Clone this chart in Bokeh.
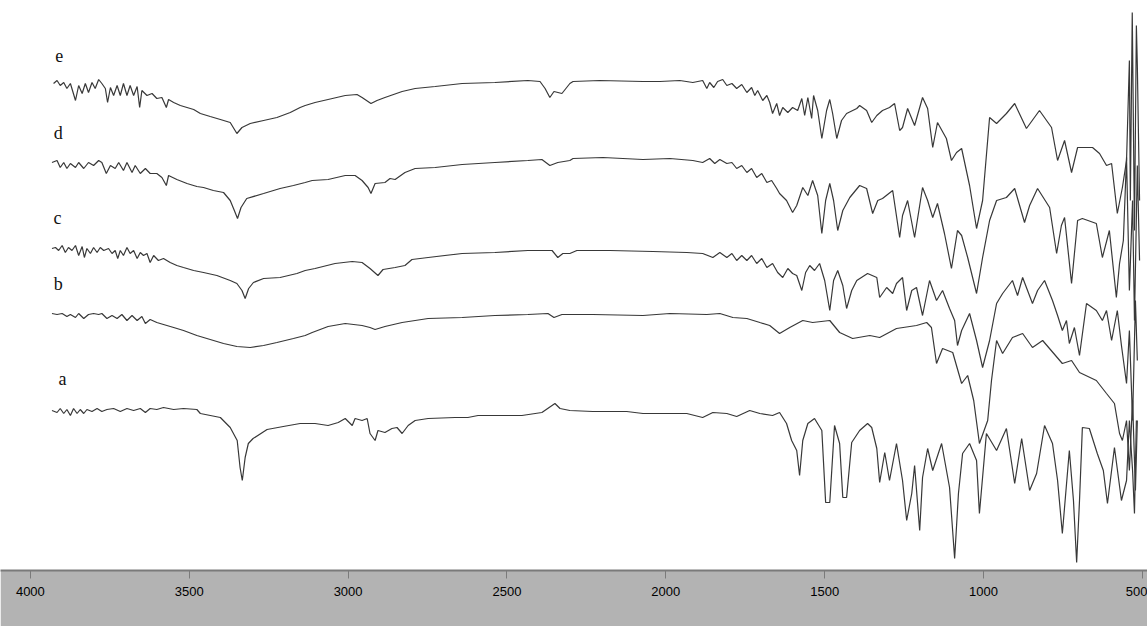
from bokeh.plotting import figure
from bokeh.models import Range1d, FixedTicker
from bokeh.embed import file_html
from bokeh.resources import INLINE
from bokeh.core.properties import value

# ---- data: (wavenumber cm^-1, offset transmittance, arbitrary units) ----
trace_e = [
    (3927, 517), (3916, 520), (3906, 515), (3895, 518), (3885, 512), (3874, 517), (3858, 500), (3848, 515), (3837, 507), (3827, 517),
    (3817, 508), (3806, 518), (3796, 512), (3785, 521), (3775, 517), (3764, 512), (3757, 498), (3748, 513), (3738, 505), (3727, 515),
    (3717, 505), (3707, 517), (3696, 505), (3686, 515), (3675, 505), (3664, 514), (3656, 493), (3649, 510), (3633, 505), (3617, 507),
    (3602, 502), (3586, 503), (3572, 493), (3565, 501), (3549, 498), (3528, 495), (3507, 493), (3486, 491), (3465, 487), (3434, 484),
    (3402, 481), (3371, 478), (3350, 467), (3334, 473), (3308, 477), (3266, 480), (3224, 483), (3182, 488), (3151, 493), (3135, 495),
    (3104, 498), (3063, 501), (3009, 505), (2972, 506), (2956, 503), (2928, 497), (2909, 500), (2884, 503), (2830, 509), (2789, 512),
    (2726, 514), (2641, 517), (2538, 518), (2434, 520), (2396, 519), (2380, 512), (2365, 503), (2352, 509), (2327, 507), (2302, 517),
    (2292, 519), (2208, 520), (2072, 519), (2019, 519), (1956, 520), (1915, 518), (1884, 520), (1871, 512), (1862, 518), (1849, 513),
    (1837, 519), (1821, 521), (1808, 515), (1792, 517), (1777, 512), (1761, 516), (1745, 508), (1730, 513), (1720, 505), (1711, 510),
    (1695, 500), (1682, 505), (1673, 498), (1664, 487), (1651, 497), (1642, 485), (1632, 493), (1616, 488), (1601, 493), (1585, 490),
    (1572, 502), (1563, 485), (1553, 503), (1541, 482), (1535, 505), (1522, 490), (1509, 462), (1494, 490), (1484, 501), (1475, 487),
    (1462, 462), (1447, 480), (1431, 487), (1399, 492), (1390, 495), (1368, 490), (1352, 478), (1336, 485), (1318, 490), (1296, 493),
    (1280, 497), (1264, 470), (1255, 473), (1239, 492), (1217, 475), (1192, 503), (1176, 492), (1160, 453), (1145, 478), (1117, 462),
    (1101, 440), (1085, 448), (1069, 452), (1044, 415), (1022, 372), (1003, 400), (981, 483), (959, 477), (928, 487), (902, 497),
    (865, 472), (824, 490), (786, 473), (767, 440), (745, 460), (723, 428), (704, 453), (657, 453), (635, 447), (613, 435),
    (597, 437), (579, 387), (563, 413), (550, 440), (541, 540), (538, 400), (532, 588), (525, 370), (519, 575), (516, 535), (509, 400),
]

trace_d = [
    (3932, 438), (3916, 440), (3906, 433), (3895, 438), (3885, 432), (3874, 437), (3858, 433), (3848, 438), (3832, 432), (3817, 438),
    (3801, 435), (3785, 440), (3775, 438), (3761, 427), (3748, 435), (3733, 432), (3722, 438), (3707, 430), (3696, 438), (3680, 428),
    (3670, 435), (3654, 427), (3638, 432), (3623, 427), (3602, 427), (3586, 423), (3572, 415), (3565, 425), (3539, 421), (3507, 417),
    (3476, 414), (3455, 413), (3424, 410), (3392, 408), (3371, 400), (3358, 390), (3348, 382), (3337, 393), (3319, 402), (3266, 407),
    (3214, 412), (3172, 415), (3135, 418),
    (3113, 420), (3063, 421), (3009, 425), (2978, 425), (2956, 420), (2937, 413), (2928, 407), (2915, 417), (2884, 418), (2868, 422),
    (2852, 421), (2821, 428), (2789, 432), (2726, 433), (2641, 436), (2538, 438), (2434, 440), (2390, 441), (2365, 435), (2340, 438),
    (2302, 440), (2292, 442), (2198, 443), (2072, 441), (1987, 442), (1915, 440), (1884, 438), (1862, 442), (1846, 437), (1830, 441),
    (1808, 437), (1792, 438), (1777, 432), (1761, 435), (1745, 428), (1730, 432), (1714, 423), (1698, 427), (1682, 418), (1667, 420),
    (1651, 412),
    (1642, 407), (1620, 400), (1601, 388), (1588, 395), (1569, 413), (1553, 405), (1538, 420), (1522, 405), (1509, 367), (1497, 400),
    (1484, 417), (1472, 400), (1459, 370), (1443, 390), (1421, 403), (1390, 415), (1368, 412), (1349, 387), (1333, 400), (1318, 402),
    (1286, 410), (1264, 363), (1255, 385), (1239, 400), (1217, 363), (1192, 413), (1176, 400), (1160, 383), (1145, 397), (1123, 367),
    (1101, 332), (1082, 370), (1069, 365), (1050, 343), (1022, 307), (1003, 343), (981, 380), (959, 400), (928, 403), (902, 412),
    (871, 378), (855, 395), (830, 412), (792, 393), (770, 347), (755, 375), (745, 383), (723, 317), (704, 380), (689, 382),
    (645, 377), (626, 343), (604, 370), (582, 303), (572, 337), (560, 360), (550, 443), (541, 310), (531, 400), (525, 280),
    (516, 435), (509, 340),
]

trace_c = [
    (3932, 352), (3921, 353), (3911, 350), (3900, 355), (3890, 348), (3880, 353), (3869, 350), (3858, 355), (3848, 345), (3837, 354),
    (3830, 343), (3822, 352), (3811, 347), (3801, 353), (3790, 348), (3780, 353), (3769, 350), (3754, 352), (3743, 347), (3733, 350),
    (3725, 342), (3717, 350), (3707, 345), (3696, 353), (3686, 347), (3675, 350), (3664, 342), (3654, 348), (3644, 345), (3633, 347),
    (3623, 338), (3612, 345), (3597, 340), (3581, 342), (3560, 338), (3539, 335), (3518, 333), (3486, 330), (3455, 328), (3413, 325),
    (3371, 320), (3350, 317), (3334, 310), (3324, 302), (3313, 312), (3298, 318), (3266, 322), (3214, 323), (3161, 327), (3135, 330),
    (3104, 332), (3041, 337), (2987, 339), (2956, 338), (2931, 332), (2906, 325), (2890, 331), (2852, 333), (2821, 335), (2799, 341),
    (2748, 343), (2641, 347), (2538, 348), (2434, 350), (2358, 350), (2340, 343), (2324, 347), (2302, 347), (2280, 350), (2176, 350),
    (2041, 349), (1934, 348), (1884, 347), (1852, 343), (1830, 348), (1808, 343), (1792, 347), (1777, 340), (1761, 345), (1745, 340),
    (1730, 345), (1714, 337), (1698, 342), (1682, 333), (1664, 337), (1648, 328),
    (1632, 323), (1616, 332), (1601, 327), (1588, 325), (1572, 310), (1560, 328), (1547, 335), (1532, 330), (1516, 337), (1500, 320),
    (1484, 290), (1472, 320), (1459, 330), (1443, 315), (1431, 292), (1415, 310), (1399, 320), (1365, 327), (1336, 323), (1327, 303),
    (1305, 313), (1286, 307), (1274, 317), (1255, 323), (1242, 290), (1226, 310), (1211, 313), (1192, 285), (1170, 320), (1148, 300),
    (1129, 310), (1107, 292), (1091, 280), (1082, 255), (1069, 270), (1044, 287), (1022, 260), (1003, 233), (981, 260), (959, 297),
    (940, 307), (909, 320), (893, 305), (877, 323), (846, 297), (830, 310), (808, 320), (783, 300), (767, 285), (752, 270),
    (739, 280), (730, 257), (714, 273), (698, 245), (676, 297), (645, 290), (626, 280), (613, 290), (597, 260), (579, 290),
    (566, 255), (550, 217), (541, 270), (531, 180), (522, 300), (516, 240),
]

trace_b = [
    (3932, 287), (3916, 286), (3900, 287), (3885, 284), (3874, 286), (3858, 283), (3848, 287), (3832, 282), (3817, 286), (3801, 287),
    (3785, 286), (3775, 287), (3759, 282), (3743, 285), (3727, 282), (3712, 286), (3696, 280), (3680, 285), (3664, 280), (3649, 284),
    (3638, 277), (3623, 281), (3602, 278), (3581, 276), (3549, 273), (3518, 270), (3476, 265), (3434, 261), (3392, 257), (3350, 254),
    (3308, 253), (3266, 255), (3224, 258), (3172, 262), (3135, 265),
    (3113, 268), (3063, 274), (3009, 277), (2956, 275), (2931, 273), (2915, 271), (2884, 274), (2830, 278), (2748, 282), (2641, 283),
    (2538, 285), (2434, 286), (2371, 287), (2352, 283), (2327, 286), (2302, 286), (2230, 286), (2072, 285), (1987, 287), (1871, 286),
    (1830, 287), (1789, 283), (1745, 282), (1704, 278), (1673, 275),
    (1642, 267), (1610, 273), (1569, 280), (1538, 278), (1484, 280), (1453, 268), (1412, 262), (1358, 265), (1327, 263), (1274, 272),
    (1211, 275), (1179, 278), (1164, 273), (1148, 237), (1129, 252), (1097, 248), (1069, 217), (1050, 225), (1031, 200), (1013, 157),
    (987, 180), (975, 220), (959, 260), (940, 247), (909, 263), (877, 267), (846, 253), (814, 260), (752, 237), (723, 240),
    (698, 228), (645, 220), (613, 207), (588, 197), (572, 167), (563, 160), (550, 180), (541, 130), (531, 200), (522, 110),
    (516, 180),
]

trace_a = [
    (3932, 190), (3916, 188), (3906, 192), (3895, 187), (3885, 191), (3874, 185), (3864, 192), (3853, 187), (3843, 191), (3832, 187),
    (3822, 191), (3806, 189), (3790, 192), (3775, 189), (3759, 191), (3738, 192), (3717, 189), (3696, 192), (3675, 190), (3654, 192),
    (3638, 188), (3623, 192), (3602, 191), (3581, 193), (3549, 191), (3518, 192), (3476, 191), (3465, 187), (3402, 183), (3371, 173),
    (3349, 160), (3340, 133), (3333, 120), (3324, 143), (3314, 157), (3299, 162), (3255, 171), (3204, 174), (3151, 177),
    (3104, 177), (3063, 175), (3031, 178), (3009, 182), (2987, 175), (2978, 182), (2956, 180), (2940, 182), (2931, 167), (2915, 160),
    (2906, 170), (2884, 168), (2862, 172), (2846, 173), (2830, 167), (2811, 175), (2789, 180), (2748, 182), (2663, 183), (2623, 183),
    (2591, 185), (2538, 185), (2453, 185), (2390, 188), (2349, 197), (2333, 192), (2302, 190), (2230, 189), (2123, 189), (2072, 187),
    (1987, 187), (1934, 187), (1884, 183), (1852, 188), (1808, 187), (1777, 184), (1736, 190), (1704, 187), (1664, 185),
    (1642, 188), (1620, 177), (1604, 160), (1588, 150), (1579, 125), (1569, 160), (1553, 177), (1532, 182), (1509, 170), (1497, 98),
    (1484, 98), (1469, 175), (1453, 157), (1443, 103), (1431, 103), (1415, 158), (1390, 170), (1365, 177), (1352, 173), (1336, 152),
    (1327, 118), (1311, 148), (1296, 120), (1274, 157), (1255, 120), (1242, 80), (1226, 107), (1217, 135), (1201, 70), (1192, 123),
    (1176, 152), (1160, 130), (1132, 157), (1107, 113), (1091, 42), (1079, 107), (1066, 147), (1044, 157), (1022, 140), (1013, 87),
    (991, 167), (959, 150), (928, 172), (902, 117), (880, 162), (855, 110), (833, 127), (808, 175), (783, 157), (767, 120),
    (752, 67), (730, 150), (717, 100), (707, 38), (698, 100), (689, 173), (667, 172), (642, 147), (623, 130), (610, 97),
    (588, 153), (566, 100), (550, 120), (541, 180), (531, 130), (525, 87), (519, 180),
]

traces = [trace_a, trace_b, trace_c, trace_d, trace_e]

label_text = ["e", "d", "c", "b", "a"]
label_wn = [3909, 3912, 3915, 3912, 3899]
label_t = [545, 468, 383, 317, 222]

tick_values = [4000, 3500, 3000, 2500, 2000, 1500, 1000, 500]
tick_labels = ["4000", "3500", "3000", "2500", "2000", "1500", "1000", "500"]

# ---- figure ----
p = figure(width=1147, height=626, output_backend="svg", toolbar_location=None,
           x_range=Range1d(4094, 484), y_range=Range1d(30, 600),
           y_axis_location=None,
           min_border_left=0, min_border_right=0, min_border_top=0, min_border_bottom=56)
p.background_fill_color = "white"
p.border_fill_color = "#b3b3b3"
p.outline_line_color = None
p.grid.visible = False

for tr in traces:
    xs = [pt[0] for pt in tr]
    ys = [pt[1] for pt in tr]
    p.line(xs, ys, line_color="#383838", line_width=1.2)

p.text(x=label_wn, y=label_t, text=label_text,
       text_font=value("Liberation Serif"), text_font_size="18px",
       text_align="center", text_baseline="middle", text_color="#111111")

ax = p.xaxis[0]
ax.ticker = FixedTicker(ticks=tick_values)
ax.major_label_overrides = {v: s for v, s in zip(tick_values, tick_labels)}
ax.axis_line_color = "#7a7a7a"
ax.axis_line_width = 2
ax.major_tick_line_color = "#7a7a7a"
ax.major_tick_in = 0
ax.major_tick_out = 8
ax.minor_tick_line_color = None
ax.major_label_standoff = 8
ax.major_label_text_font = "Liberation Sans"
ax.major_label_text_font_size = "13px"
ax.major_label_text_color = "#000000"

open("out.html", "w").write(file_html(p, INLINE))
